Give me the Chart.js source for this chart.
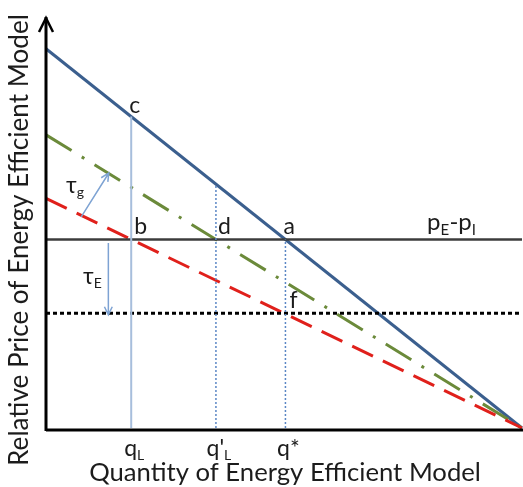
<!DOCTYPE html>
<html>
<head>
<meta charset="utf-8">
<script src="https://cdn.jsdelivr.net/npm/chart.js@4.4.1/dist/chart.umd.min.js"></script>
<style>
  html, body { margin: 0; padding: 0; background: #fff; }
  #wrap { width: 523px; height: 487px; }
</style>
</head>
<body>
<div id="wrap"><canvas id="chart"></canvas></div>
<script>
// demand-style lines: value at quantity 0 and at quantity 10
const quantityEnds = [0, 10];
const bluePrice = [9.25, 0];   // c - a line (solid)
const greenPrice = [7.15, 0];  // d line (dash dot)
const redPrice = [5.6, 0];     // b - f line (dashed)

// horizontal levels
const priceGap = 4.6;        // pE - pI
const priceAfterTax = 2.8;   // dotted level through f

// quantities marked on the x axis and where their guide lines stop
const qValues = [1.79, 3.57, 5.03];
const qTops = [7.6, 5.95, 4.6];
const qLabels = [['q', 'L'], ["q'", 'L'], ['q*', '']];

// arrows for the two wedges [x0, y0, x1, y1]
const tauGArrow = [0.74, 5.15, 1.32, 6.22];
const tauEArrow = [1.31, 4.51, 1.31, 2.76];

const FONT = 'Lato, "Open Sans", sans-serif';
const TEXT = '#1c1c1c';

function pts(xs, ys) {
    return xs.map((x, i) => ({ x: x, y: ys[i] }));
}

function subText(ctx, x, y, main, sub, size, align) {
    ctx.font = size + 'px ' + FONT;
    const w1 = ctx.measureText(main).width;
    ctx.font = Math.round(size * 0.62) + 'px ' + FONT;
    const w2 = ctx.measureText(sub).width;
    let x0 = x;
    if (align === 'center') x0 = x - (w1 + w2) / 2;
    ctx.textAlign = 'left';
    ctx.textBaseline = 'alphabetic';
    ctx.fillStyle = TEXT;
    ctx.font = size + 'px ' + FONT;
    ctx.fillText(main, x0, y);
    ctx.font = Math.round(size * 0.62) + 'px ' + FONT;
    ctx.fillText(sub, x0 + w1, y + size * 0.18);
}

function fitText(ctx, text, width) {
    ctx.font = '20px ' + FONT;
    const w = ctx.measureText(text).width;
    return 20 * width / w;
}

function arrow(ctx, x0, y0, x1, y1, color) {
    const ang = Math.atan2(y1 - y0, x1 - x0);
    ctx.strokeStyle = color;
    ctx.lineWidth = 1.5;
    ctx.setLineDash([]);
    ctx.beginPath();
    ctx.moveTo(x0, y0);
    ctx.lineTo(x1, y1);
    ctx.moveTo(x1 - 9 * Math.cos(ang - 0.45), y1 - 9 * Math.sin(ang - 0.45));
    ctx.lineTo(x1, y1);
    ctx.lineTo(x1 - 9 * Math.cos(ang + 0.45), y1 - 9 * Math.sin(ang + 0.45));
    ctx.stroke();
}

const diagram = {
    id: 'diagram',
    afterDatasetsDraw(chart) {
        const ctx = chart.ctx;
        const xs = chart.scales.x, ys = chart.scales.y;
        const area = chart.chartArea;
        const X = v => xs.getPixelForValue(v);
        const Y = v => ys.getPixelForValue(v);
        ctx.save();

        // axes
        ctx.strokeStyle = '#000';
        ctx.lineWidth = 3;
        ctx.setLineDash([]);
        ctx.beginPath();
        ctx.moveTo(area.left, area.bottom + 2);
        ctx.lineTo(523, area.bottom + 2);
        ctx.moveTo(area.left, area.bottom + 3);
        ctx.lineTo(area.left, area.top - 1);
        ctx.stroke();
        ctx.lineWidth = 2.5;
        ctx.beginPath();
        ctx.moveTo(area.left - 7, area.top + 14);
        ctx.lineTo(area.left, area.top);
        ctx.lineTo(area.left + 7, area.top + 14);
        ctx.stroke();

        // wedge arrows
        arrow(ctx, X(tauGArrow[0]), Y(tauGArrow[1]), X(tauGArrow[2]), Y(tauGArrow[3]), '#7ea3d3');
        arrow(ctx, X(tauEArrow[0]), Y(tauEArrow[1]), X(tauEArrow[2]), Y(tauEArrow[3]), '#7ea3d3');

        // point letters
        ctx.fillStyle = TEXT;
        ctx.font = '23px ' + FONT;
        ctx.textAlign = 'left';
        ctx.textBaseline = 'alphabetic';
        ctx.fillText('c', X(qValues[0]) - 2, Y(qTops[0]) - 3);
        ctx.fillText('b', X(qValues[0]) + 3, Y(priceGap) - 5);
        ctx.fillText('d', X(qValues[1]) + 2, Y(priceGap) - 5);
        ctx.fillText('a', X(qValues[2]) - 2, Y(priceGap) - 5);
        ctx.fillText('f', X(qValues[2]) + 4, Y(priceAfterTax) - 5);

        subText(ctx, 427, Y(priceGap) - 9, 'p', 'E', 24, 'left');
        ctx.font = '24px ' + FONT;
        ctx.fillStyle = TEXT;
        const pw = ctx.measureText('p').width + 9;
        ctx.fillText('-', 427 + pw, Y(priceGap) - 9);
        subText(ctx, 427 + pw + ctx.measureText('-').width, Y(priceGap) - 9, 'p', 'I', 24, 'left');

        subText(ctx, 66, 193, '\u03c4', 'g', 23, 'left');
        subText(ctx, 83, 284, '\u03c4', 'E', 23, 'left');

        // quantity labels under the axis
        qValues.forEach((q, i) => {
            subText(ctx, X(q) + 3, 456, qLabels[i][0], qLabels[i][1], 23, 'center');
        });

        // axis titles
        const xt = 'Quantity of Energy Efficient Model';
        ctx.fillStyle = TEXT;
        ctx.font = fitText(ctx, xt, 392) + 'px ' + FONT;
        ctx.textAlign = 'center';
        ctx.fillText(xt, 285, 481);

        const yt = 'Relative Price of Energy Efficient Model';
        ctx.save();
        ctx.translate(28, 240);
        ctx.rotate(-Math.PI / 2);
        ctx.font = fitText(ctx, yt, 452) + 'px ' + FONT;
        ctx.textAlign = 'center';
        ctx.fillText(yt, 0, 0);
        ctx.restore();

        ctx.restore();
    }
};

const lineDefaults = { showLine: true, pointRadius: 0, fill: false, clip: false, tension: 0 };

const datasets = [
    Object.assign({ data: pts([qValues[0], qValues[0]], [0, qTops[0]]), borderColor: '#a7bedc', borderWidth: 2 }, lineDefaults),
    Object.assign({ data: pts([qValues[1], qValues[1]], [0, qTops[1]]), borderColor: '#5b87c5', borderWidth: 1.5, borderDash: [2, 2] }, lineDefaults),
    Object.assign({ data: pts([qValues[2], qValues[2]], [0, qTops[2]]), borderColor: '#5b87c5', borderWidth: 1.5, borderDash: [2, 2] }, lineDefaults),
    Object.assign({ data: pts(quantityEnds, [priceGap, priceGap]), borderColor: '#3c3c3c', borderWidth: 2.5 }, lineDefaults),
    Object.assign({ data: pts(quantityEnds, [priceAfterTax, priceAfterTax]), borderColor: '#000', borderWidth: 3, borderDash: [4, 3] }, lineDefaults),
    Object.assign({ data: pts(quantityEnds, redPrice), borderColor: '#e0201b', borderWidth: 3, borderDash: [23, 11] }, lineDefaults),
    Object.assign({ data: pts(quantityEnds, greenPrice), borderColor: '#6b8a3a', borderWidth: 3, borderDash: [30, 12, 3, 12] }, lineDefaults),
    Object.assign({ data: pts(quantityEnds, bluePrice), borderColor: '#3b5f8e', borderWidth: 3 }, lineDefaults)
];

new Chart(document.getElementById('chart'), {
    type: 'scatter',
    data: { datasets: datasets },
    options: {
        responsive: true,
        maintainAspectRatio: false,
        animation: false,
        layout: { padding: { left: 46, right: 1, top: 18, bottom: 59 } },
        plugins: { legend: { display: false }, tooltip: { enabled: false } },
        scales: {
            x: { type: 'linear', min: 0, max: 10, display: false },
            y: { type: 'linear', min: 0, max: 10, display: false }
        }
    },
    plugins: [diagram]
});
</script>
</body>
</html>
